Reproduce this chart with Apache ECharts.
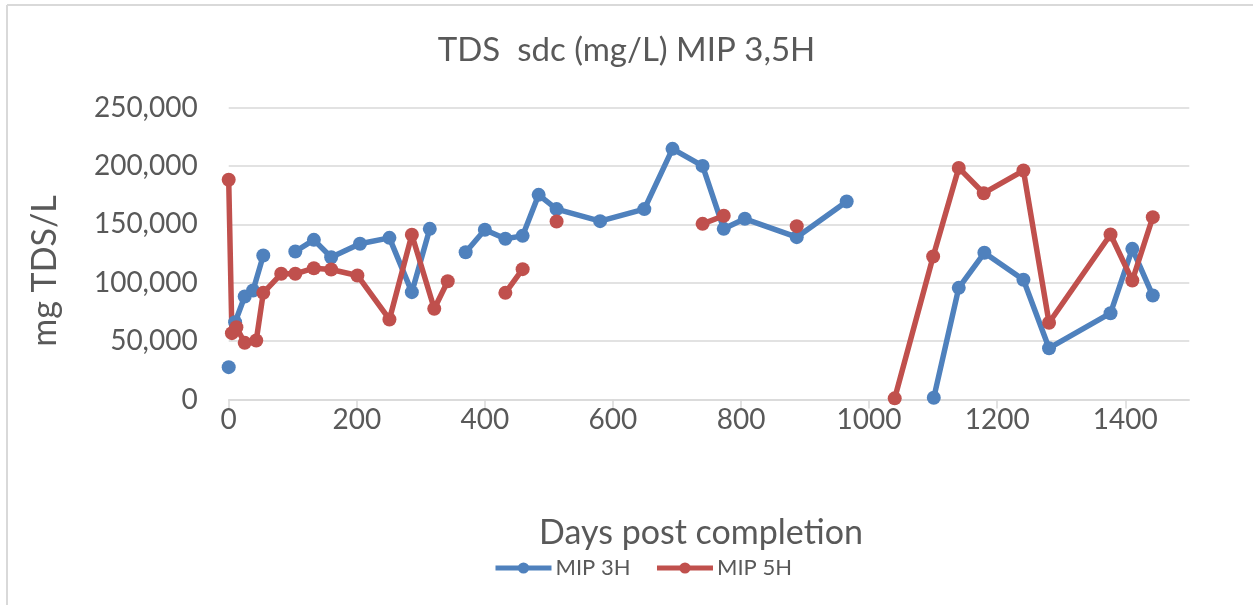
<!DOCTYPE html>
<html>
<head>
<meta charset="utf-8">
<script src="https://cdn.jsdelivr.net/npm/echarts@6/dist/echarts.min.js"></script>
<style>
html,body{margin:0;padding:0;background:#fff;}
#chart{width:1253px;height:605px;}
</style>
</head>
<body>
<div id="chart"></div>
<script>
// ---- data (null = gap in the series) ----
var mip3Days   = [0, null, 10, 25, 38, 54, null, 104, 133, 160, 205, 251, 286, 314, null, 370, 400, 432, 459, 484, 512, 580, 649, 693, 740, 773, 806, 887, 965, null, 1101, 1140, 1180, 1241, 1281, 1377, 1411, 1443];
var mip3Values = [27700, null, 66200, 88200, 93300, 123300, null, 126700, 136700, 121800, 133300, 138400, 91900, 146100, null, 126100, 145300, 137600, 140100, 175200, 163000, 152700, 163000, 214600, 200000, 146100, 154700, 139000, 169500, null, 1500, 95600, 125600, 102500, 43900, 73900, 129000, 89000];

var mip5Days   = [0, 5, 12, 25, 43, 54, 82, 104, 133, 160, 201, 251, 286, 321, 342, null, 432, 459, null, 512, null, 740, 773, null, 887, null, 1040, 1100, 1140, 1179, 1241, 1281, 1377, 1411, 1443];
var mip5Values = [188100, 56800, 61900, 48500, 50500, 91300, 107600, 107600, 112400, 111300, 106200, 68500, 141000, 77700, 101300, null, 91300, 111600, null, 152400, null, 150400, 157300, null, 148400, null, 1000, 122400, 198300, 176600, 196000, 65700, 141300, 101900, 156100];

var seriesNames = ['MIP 3H', 'MIP 5H'];
var titleText = 'TDS  sdc (mg/L) MIP 3,5H';
var xAxisTitle = 'Days post completion';
var yAxisTitle = 'mg TDS/L';

function pairs(days, vals) {
  return days.map(function (d, i) {
    return (d === null || vals[i] === null) ? ['-', '-'] : [d, vals[i]];
  });
}

var FONT = 'Lato';
var TXT = '#595959';
var BLUE = '#4F81BD';
var RED = '#C0504D';

var chart = echarts.init(document.getElementById('chart'), null, {renderer: 'canvas'});
chart.setOption({
  animation: false,
  backgroundColor: '#fff',
  title: {
    text: titleText,
    left: 'center',
    top: 29,
    textStyle: {fontFamily: FONT, fontSize: 33, fontWeight: 'normal', color: TXT}
  },
  legend: {
    left: 493,
    top: 557,
    padding: 0,
    itemWidth: 56,
    itemHeight: 14,
    itemGap: 24,
    lineStyle: {width: 5},
    textStyle: {fontFamily: FONT, fontSize: 22, color: TXT, padding: [0, 0, 0, -1]},
    data: seriesNames
  },
  grid: {left: 228.7, right: 63.7, top: 107.5, bottom: 205.5, containLabel: false},
  xAxis: {
    type: 'value',
    min: 0, max: 1500, interval: 200,
    axisLine: {show: true, lineStyle: {color: '#d9d9d9', width: 1.5}},
    axisTick: {show: true, length: 9, lineStyle: {color: '#d9d9d9', width: 1.5}},
    axisLabel: {fontFamily: FONT, fontSize: 28, color: TXT, margin: 6, showMaxLabel: false,
      formatter: function (v) { return String(v); }},
    splitLine: {show: false}
  },
  yAxis: {
    type: 'value',
    min: 0, max: 250000, interval: 50000,
    axisLine: {show: false},
    axisTick: {show: false},
    axisLabel: {
      fontFamily: FONT, fontSize: 28, color: TXT, margin: 31,
      formatter: function (v) { return v.toLocaleString('en-US'); }
    },
    splitLine: {lineStyle: {color: '#d9d9d9', width: 1.5}}
  },
  graphic: [
    {type: 'line', shape: {x1: 7, y1: 5, x2: 7, y2: 605}, style: {stroke: '#d9d9d9', lineWidth: 2}, silent: true},
    {type: 'line', shape: {x1: 7, y1: 5, x2: 1253, y2: 5}, style: {stroke: '#d9d9d9', lineWidth: 2}, silent: true},
    {type: 'text', x: 701, y: 533,
     style: {text: xAxisTitle, font: '34px ' + FONT, fill: TXT, align: 'center', verticalAlign: 'middle'}},
    {type: 'text', x: 45, y: 271, rotation: Math.PI / 2,
     style: {text: yAxisTitle, font: '34px ' + FONT, fill: TXT, align: 'center', verticalAlign: 'middle'}}
  ],
  series: [
    {
      name: seriesNames[0], type: 'line',
      data: pairs(mip3Days, mip3Values),
      symbol: 'circle', symbolSize: 14, connectNulls: false,
      itemStyle: {color: BLUE},
      lineStyle: {color: BLUE, width: 5.5}
    },
    {
      name: seriesNames[1], type: 'line',
      data: pairs(mip5Days, mip5Values),
      symbol: 'circle', symbolSize: 14, connectNulls: false,
      itemStyle: {color: RED},
      lineStyle: {color: RED, width: 5.5}
    }
  ]
});
</script>
</body>
</html>
